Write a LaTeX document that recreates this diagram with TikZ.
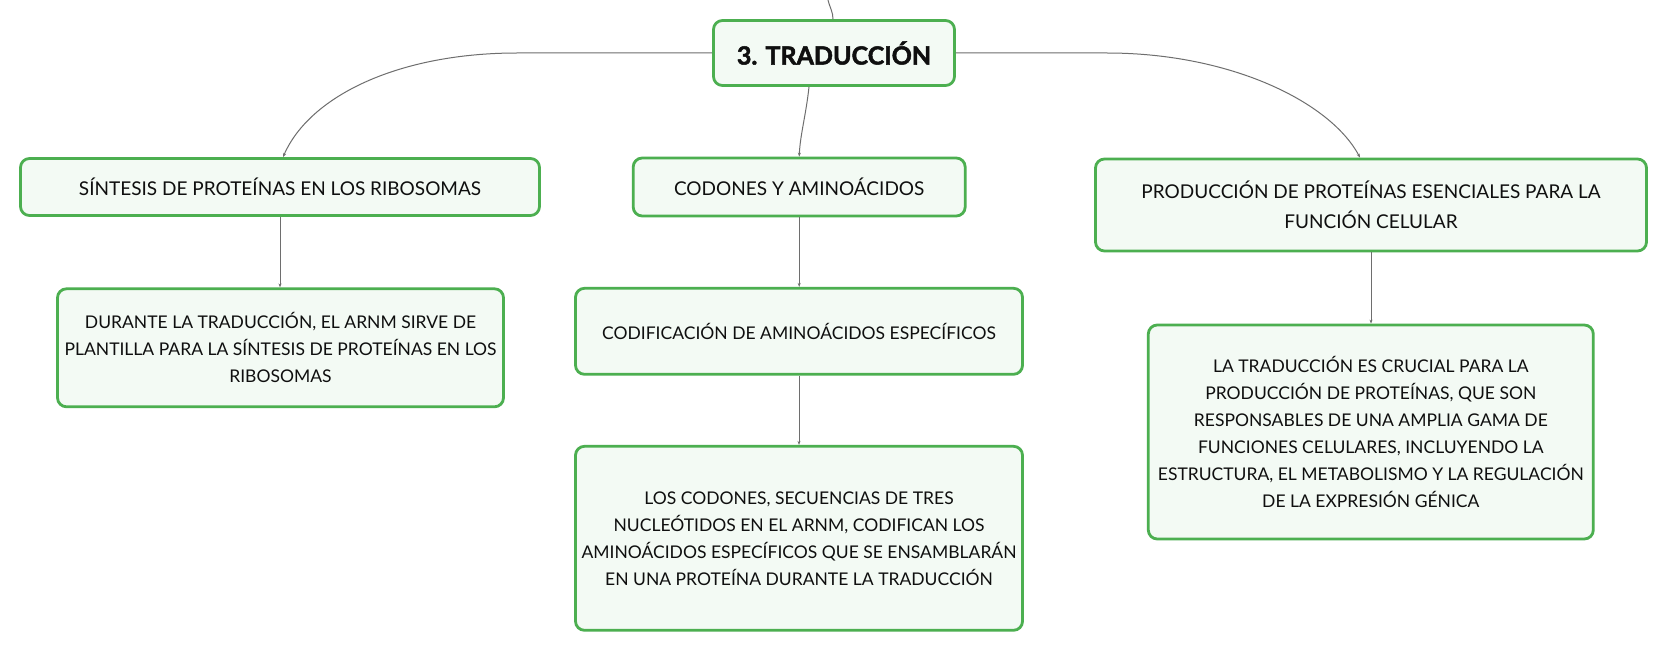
\documentclass[tikz,border=0pt]{standalone}
\usepackage{fontspec}
\setmainfont{Lato}
\newfontfamily\titlefont{Lato}[BoldFeatures={FakeBold=2}]
\usetikzlibrary{arrows.meta}
\definecolor{boxgreen}{RGB}{76,175,80}
\definecolor{boxfill}{RGB}{243,250,244}
\definecolor{linegray}{RGB}{110,110,110}
\definecolor{txt}{RGB}{15,15,15}
\tikzset{
  box/.style={draw=boxgreen, line width=2.8pt, fill=boxfill, rounded corners=9pt,
    inner sep=0pt, align=center, text=txt,
    font=\fontsize{17.5}{27}\selectfont},
  topbox/.style={box, font=\fontsize{19}{30}\selectfont},
  titlebox/.style={box, font=\fontsize{25}{30}\selectfont\titlefont\bfseries},
  conn/.style={draw=linegray, line width=1pt},
  connarrow/.style={conn, -{Stealth[length=4pt,width=3pt]}}
}
\begin{document}
\begin{tikzpicture}[x=1pt,y=-1pt]
\useasboundingbox (0,0) rectangle (1669,652);
\fill[white] (0,0) rectangle (1669,652);

\node[titlebox, minimum width=241pt, minimum height=65pt] (title) at (834,53) {3. TRADUCCIÓN};

\node[topbox, minimum width=519pt, minimum height=57pt] (sint) at (280,187) {SÍNTESIS DE PROTEÍNAS EN LOS RIBOSOMAS};
\node[topbox, minimum width=332pt, minimum height=58pt] (cod) at (799.2,187) {CODONES Y AMINOÁCIDOS};
\node[topbox, minimum width=551pt, minimum height=92pt] (prod) at (1371,205) {PRODUCCIÓN DE PROTEÍNAS ESENCIALES PARA LA\\ FUNCIÓN CELULAR};

\node[box, minimum width=446pt, minimum height=118pt] (dur) at (280.5,347.8) {DURANTE LA TRADUCCIÓN, EL ARNM SIRVE DE\\ PLANTILLA PARA LA SÍNTESIS DE PROTEÍNAS EN LOS\\ RIBOSOMAS};
\node[box, minimum width=447pt, minimum height=86pt] (codif) at (799,331.3) {CODIFICACIÓN DE AMINOÁCIDOS ESPECÍFICOS};
\node[box, minimum width=447pt, minimum height=184pt] (los) at (799,538.3) {LOS CODONES, SECUENCIAS DE TRES\\ NUCLEÓTIDOS EN EL ARNM, CODIFICAN LOS\\ AMINOÁCIDOS ESPECÍFICOS QUE SE ENSAMBLARÁN\\ EN UNA PROTEÍNA DURANTE LA TRADUCCIÓN};
\node[box, minimum width=445pt, minimum height=214pt] (latrad) at (1370.8,432) {LA TRADUCCIÓN ES CRUCIAL PARA LA\\ PRODUCCIÓN DE PROTEÍNAS, QUE SON\\ RESPONSABLES DE UNA AMPLIA GAMA DE\\ FUNCIONES CELULARES, INCLUYENDO LA\\ ESTRUCTURA, EL METABOLISMO Y LA REGULACIÓN\\ DE LA EXPRESIÓN GÉNICA};

% connectors
\coordinate (topin) at (828,0);
\draw[conn] (topin) .. controls (830,8) and (833,12) .. ([xshift=-1pt]title.north);
\draw[connarrow] ([xshift=-25pt]title.south) .. controls +(-3,28) and +(1,-22) .. (cod.north);
\draw[connarrow] (title.west) -- ++(-195,0) .. controls +(-117,0) and +(27,-62) .. ([xshift=3pt]sint.north);
\draw[connarrow] (title.east) -- ++(151,0) .. controls +(123,0) and +(-30,-56) .. ([xshift=-11pt]prod.north);

\draw[connarrow] (sint.south) -- (dur.north -| sint.south);
\draw[connarrow] (cod.south) -- (codif.north -| cod.south);
\draw[connarrow] (codif.south) -- (los.north);
\draw[connarrow] (prod.south) -- (latrad.north -| prod.south);
\end{tikzpicture}
\end{document}
